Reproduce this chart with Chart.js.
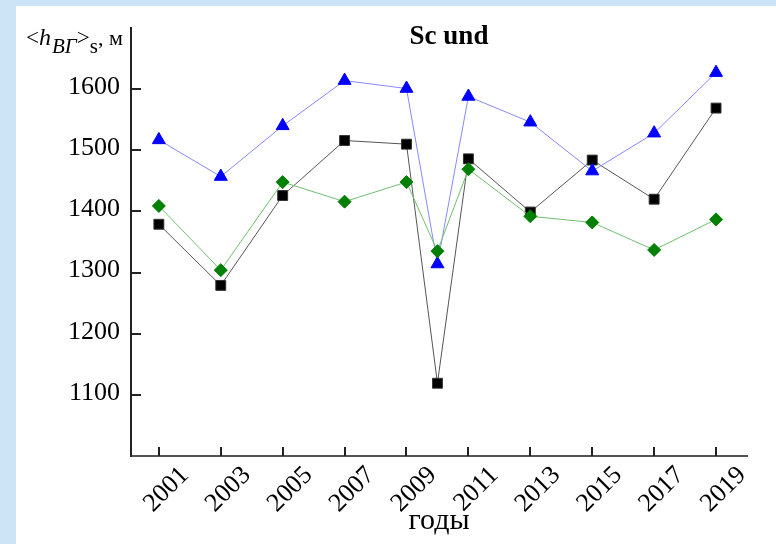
<!DOCTYPE html>
<html><head><meta charset="utf-8">
<script src="https://cdn.jsdelivr.net/npm/chart.js@4/dist/chart.umd.min.js"></script>
<style>
html,body{margin:0;padding:0;background:#cde4f7;}
#wrap{position:relative;width:776px;height:544px;background:#cde4f7;overflow:hidden}
#panel{position:absolute;left:16px;top:6px;right:0;bottom:0;background:#fff}
canvas{position:absolute;left:0;top:0}
</style></head><body>
<div id="wrap"><div id="panel"></div><canvas id="c" width="776" height="544"></canvas></div>
<script>
const years = [2001, 2003, 2005, 2007, 2009, 2010, 2011, 2013, 2015, 2017, 2019];
const seriesTriangle = [1517, 1457, 1540, 1614, 1601, 1314, 1588, 1546, 1466, 1528, 1627];
const seriesSquare   = [1379, 1279, 1426, 1516, 1510, 1119, 1486, 1399, 1484, 1420, 1569];
const seriesDiamond  = [1409, 1304, 1448, 1416, 1448, 1335, 1469, 1392, 1382, 1337, 1387];
const xTickYears = [2001, 2003, 2005, 2007, 2009, 2011, 2013, 2015, 2017, 2019];
const yTickValues = [1100, 1200, 1300, 1400, 1500, 1600];
const chartTitle = 'Sc und';
const xAxisTitle = 'годы';
const yLabelParts = [
  {t: '<', style: '', size: 23, dy: 0},
  {t: 'h', style: 'italic', size: 24, dy: 0},
  {t: 'BГ', style: 'italic', size: 21, dy: 8},
  {t: '>', style: '', size: 23, dy: 0},
  {t: 's', style: '', size: 21, dy: 8},
  {t: ', м', style: '', size: 22, dy: 0}
];

const SERIF = '"Liberation Serif", "Times New Roman", serif';
const toXY = vals => years.map((y, i) => ({x: y, y: vals[i]}));

const textPlugin = {
  id: 'texts',
  afterDraw(chart) {
    const ctx = chart.ctx;
    const xs = chart.scales.x, ys = chart.scales.y;
    const x0 = ys.right, y0 = xs.top;
    ctx.save();
    // inward tick marks (inside the plot, starting at the axis lines)
    ctx.strokeStyle = '#222';
    ctx.lineWidth = 2;
    ctx.beginPath();
    for (const v of yTickValues) {
      const py = Math.round(ys.getPixelForValue(v));
      ctx.moveTo(x0, py); ctx.lineTo(x0 + 10, py);
    }
    for (const v of xTickYears) {
      const px = Math.round(xs.getPixelForValue(v));
      ctx.moveTo(px, y0); ctx.lineTo(px, y0 - 9);
    }
    ctx.stroke();
    // title
    ctx.fillStyle = '#000';
    ctx.textBaseline = 'alphabetic';
    ctx.textAlign = 'center';
    ctx.font = 'bold 27px ' + SERIF;
    ctx.fillText(chartTitle, 449, 44);
    // y-axis label with subscripts
    ctx.textAlign = 'left';
    let x = 26;
    const base = 45;
    for (const p of yLabelParts) {
      ctx.font = (p.style ? p.style + ' ' : '') + p.size + 'px ' + SERIF;
      ctx.fillText(p.t, x, base + p.dy);
      x += ctx.measureText(p.t).width + (p.t === 'h' ? 1 : 0);
    }
    ctx.restore();
  }
};

new Chart(document.getElementById('c'), {
  type: 'line',
  data: {
    datasets: [
      {
        label: 'diamond', data: toXY(seriesDiamond),
        borderColor: '#6fbf6f', borderWidth: 1,
        pointStyle: 'rectRot', pointRadius: 6.5,
        pointBackgroundColor: '#008000', pointBorderColor: '#008000', pointBorderWidth: 1
      },
      {
        label: 'triangle', data: toXY(seriesTriangle),
        borderColor: '#8888ff', borderWidth: 1,
        pointStyle: 'triangle', pointRadius: 7.5,
        pointBackgroundColor: '#0000ff', pointBorderColor: '#0000ff', pointBorderWidth: 1
      },
      {
        label: 'square', data: toXY(seriesSquare),
        borderColor: '#555555', borderWidth: 1,
        pointStyle: 'rect', pointRadius: 7,
        pointBackgroundColor: '#000000', pointBorderColor: '#333333', pointBorderWidth: 1
      }
    ]
  },
  options: {
    responsive: false,
    devicePixelRatio: 1,
    animation: false,
    layout: {padding: {left: 0, right: 29, top: 28, bottom: 0}},
    plugins: {legend: {display: false}, tooltip: {enabled: false}, title: {display: false}},
    scales: {
      x: {
        type: 'linear', position: 'bottom', min: 2000.1, max: 2020,
        afterBuildTicks: s => { s.ticks = xTickYears.map(v => ({value: v})); },
        afterFit: s => { s.height = 88; },
        grid: {drawOnChartArea: false, drawTicks: false},
        border: {display: true, color: '#555', width: 2},
        ticks: {
          autoSkip: false, maxRotation: 45, minRotation: 45,
          labelOffset: 26, padding: 6, color: '#000',
          font: {family: SERIF, size: 26, lineHeight: 1},
          callback: v => String(v)
        },
        title: {display: true, text: xAxisTitle, color: '#000',
          font: {family: SERIF, size: 30, lineHeight: 1}, padding: {top: 0, bottom: 8}}
      },
      y: {
        type: 'linear', position: 'left', min: 1000, max: 1700,
        afterBuildTicks: s => { s.ticks = yTickValues.map(v => ({value: v})); },
        afterFit: s => { s.width = 131; },
        grid: {drawOnChartArea: false, drawTicks: false},
        border: {display: true, color: '#222', width: 2},
        ticks: {padding: 11, labelOffset: -2, color: '#000', font: {family: SERIF, size: 26, lineHeight: 1},
          callback: v => String(v)}
      }
    }
  },
  plugins: [textPlugin]
});
</script>
</body></html>
